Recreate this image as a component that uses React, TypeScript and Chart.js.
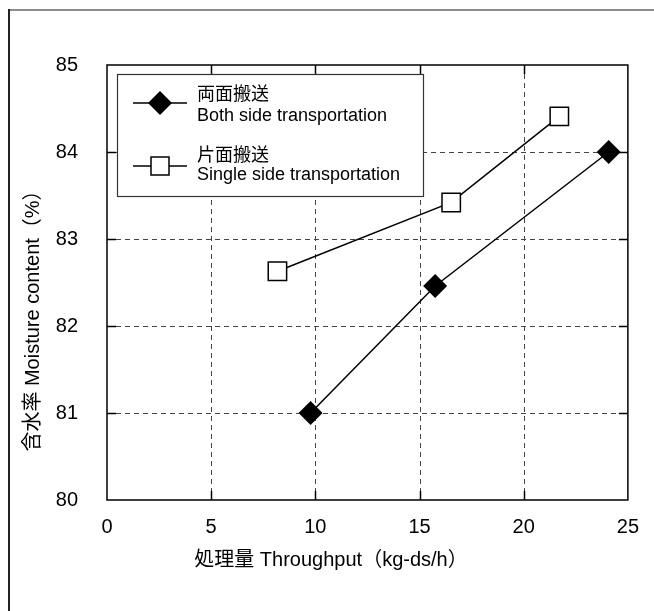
import { useEffect, useRef } from "react";
import { Chart, registerables } from "chart.js";

Chart.register(...registerables);

// Measured series
const bothX = [9.77, 15.75, 24.08];
const bothY = [81.0, 82.46, 84.0];
const singleX = [8.18, 16.52, 21.71];
const singleY = [82.63, 83.42, 84.41];

// Axis ranges / ticks
const xMin = 0;
const xMax = 25;
const xStep = 5;
const yMin = 80;
const yMax = 85;
const yStep = 1;

// Text
const bothLabel = ["両面搬送", "Both side transportation"];
const singleLabel = ["片面搬送", "Single side transportation"];
const xTitle = "処理量 Throughput（kg-ds/h）";
const yTitle = "含水率 Moisture content（%）";

const FONT = '"Liberation Sans", Arial, "Noto Sans CJK JP", sans-serif';

function drawDiamond(ctx: CanvasRenderingContext2D, x: number, y: number, r: number) {
  ctx.beginPath();
  ctx.moveTo(x - r, y);
  ctx.lineTo(x, y - r);
  ctx.lineTo(x + r, y);
  ctx.lineTo(x, y + r);
  ctx.closePath();
  ctx.fillStyle = "#000";
  ctx.fill();
}

function drawSquare(ctx: CanvasRenderingContext2D, x: number, y: number, half: number) {
  ctx.fillStyle = "#fff";
  ctx.fillRect(x - half, y - half, half * 2, half * 2);
  ctx.lineWidth = 1.5;
  ctx.strokeStyle = "#000";
  ctx.strokeRect(x - half, y - half, half * 2, half * 2);
}

const framePlugin = {
  id: "frameAndGrid",
  beforeDraw(chart: any) {
    const { ctx, width, height } = chart;
    ctx.save();
    ctx.fillStyle = "#fff";
    ctx.fillRect(0, 0, width, height);
    // page border
    ctx.fillStyle = "#8c8c8c";
    ctx.fillRect(8, 9, width - 8, 2);
    ctx.fillStyle = "#222";
    ctx.fillRect(8, 9, 2, height - 9);
    ctx.restore();
  },
  beforeDatasetsDraw(chart: any) {
    const { ctx, chartArea: a, scales } = chart;
    const xs = scales.x;
    const ys = scales.y;
    ctx.save();
    // dashed grid
    ctx.strokeStyle = "#444";
    ctx.lineWidth = 1;
    ctx.setLineDash([5, 4]);
    xs.ticks.forEach((t: any) => {
      if (t.value <= xMin || t.value >= xMax) return;
      const px = Math.round(xs.getPixelForValue(t.value)) + 0.5;
      ctx.beginPath();
      ctx.moveTo(px, a.top);
      ctx.lineTo(px, a.bottom);
      ctx.stroke();
    });
    ys.ticks.forEach((t: any) => {
      if (t.value <= yMin || t.value >= yMax) return;
      const py = Math.round(ys.getPixelForValue(t.value)) + 0.5;
      ctx.beginPath();
      ctx.moveTo(a.left, py);
      ctx.lineTo(a.right, py);
      ctx.stroke();
    });
    ctx.setLineDash([]);
    // inward tick marks
    ctx.strokeStyle = "#000";
    ctx.lineWidth = 1.5;
    const tl = 9;
    xs.ticks.forEach((t: any) => {
      if (t.value <= xMin || t.value >= xMax) return;
      const px = Math.round(xs.getPixelForValue(t.value)) + 0.5;
      ctx.beginPath();
      ctx.moveTo(px, a.bottom);
      ctx.lineTo(px, a.bottom - tl);
      ctx.moveTo(px, a.top);
      ctx.lineTo(px, a.top + tl);
      ctx.stroke();
    });
    ys.ticks.forEach((t: any) => {
      if (t.value <= yMin || t.value >= yMax) return;
      const py = Math.round(ys.getPixelForValue(t.value)) + 0.5;
      ctx.beginPath();
      ctx.moveTo(a.left, py);
      ctx.lineTo(a.left + tl, py);
      ctx.moveTo(a.right, py);
      ctx.lineTo(a.right - tl, py);
      ctx.stroke();
    });
    // frame
    ctx.lineWidth = 1.5;
    ctx.strokeRect(a.left, a.top, a.right - a.left, a.bottom - a.top);
    ctx.restore();
  },
  afterDatasetsDraw(chart: any) {
    const { ctx, chartArea: a } = chart;
    const bx = a.left + 10;
    const by = a.top + 9;
    const bw = 306;
    const bh = 122;
    ctx.save();
    ctx.fillStyle = "#fff";
    ctx.fillRect(bx, by, bw, bh);
    ctx.strokeStyle = "#333";
    ctx.lineWidth = 1.2;
    ctx.strokeRect(bx + 0.5, by + 0.5, bw, bh);

    const entries = [
      { labels: bothLabel, marker: "diamond", my: by + 29, t1: by + 21, t2: by + 42 },
      { labels: singleLabel, marker: "square", my: by + 92, t1: by + 82.5, t2: by + 101.5 },
    ];
    entries.forEach((e) => {
      ctx.strokeStyle = "#000";
      ctx.lineWidth = 1.5;
      ctx.beginPath();
      ctx.moveTo(bx + 16, e.my);
      ctx.lineTo(bx + 70, e.my);
      ctx.stroke();
      if (e.marker === "diamond") drawDiamond(ctx, bx + 43, e.my, 12);
      else drawSquare(ctx, bx + 43, e.my, 9);
      ctx.fillStyle = "#000";
      ctx.font = `18px ${FONT}`;
      ctx.textAlign = "left";
      ctx.textBaseline = "middle";
      ctx.fillText(e.labels[0], bx + 80, e.t1);
      ctx.fillText(e.labels[1], bx + 80, e.t2);
    });

    // axis titles
    ctx.font = `20px ${FONT}`;
    ctx.textAlign = "center";
    ctx.textBaseline = "middle";
    ctx.fillText(xTitle, 331, 560);
    ctx.translate(33, 316);
    ctx.rotate(-Math.PI / 2);
    ctx.fillText(yTitle, 0, 0);
    ctx.restore();
  },
};

export default function App() {
  const ref = useRef<HTMLCanvasElement>(null);

  useEffect(() => {
    if (!ref.current) return;
    const chart = new Chart(ref.current, {
      type: "scatter",
      data: {
        datasets: [
          {
            label: bothLabel.join(" "),
            data: bothX.map((x, i) => ({ x, y: bothY[i] })),
            showLine: true,
            borderColor: "#000",
            borderWidth: 1.5,
            backgroundColor: "#000",
            pointStyle: "rectRot",
            pointRadius: 12,
            pointHoverRadius: 12,
            pointBorderWidth: 0,
          },
          {
            label: singleLabel.join(" "),
            data: singleX.map((x, i) => ({ x, y: singleY[i] })),
            showLine: true,
            borderColor: "#000",
            borderWidth: 1.5,
            backgroundColor: "#fff",
            pointBackgroundColor: "#fff",
            pointBorderColor: "#000",
            pointBorderWidth: 1.5,
            pointStyle: "rect",
            pointRadius: 13,
            pointHoverRadius: 13,
          },
        ],
      },
      options: {
        responsive: false,
        animation: false,
        devicePixelRatio: 1,
        layout: { padding: { left: 0, right: 23, top: 65, bottom: 31 } },
        plugins: {
          legend: { display: false },
          tooltip: { enabled: false },
        },
        events: [],
        scales: {
          x: {
            type: "linear",
            min: xMin,
            max: xMax,
            grid: { display: false, drawTicks: false },
            border: { display: false },
            ticks: {
              stepSize: xStep,
              color: "#000",
              padding: 15,
              font: { family: FONT, size: 20 },
              maxRotation: 0,
            },
            afterFit(scale: any) {
              scale.height = 80;
            },
          },
          y: {
            type: "linear",
            min: yMin,
            max: yMax,
            grid: { display: false, drawTicks: false },
            border: { display: false },
            ticks: {
              stepSize: yStep,
              color: "#000",
              padding: 29,
              font: { family: FONT, size: 20 },
            },
            afterFit(scale: any) {
              scale.width = 107;
            },
          },
        },
      },
      plugins: [framePlugin],
    });
    return () => chart.destroy();
  }, []);

  return (
    <div style={{ position: "absolute", left: 0, top: 0, width: 654, height: 611, background: "#fff" }}>
      <canvas ref={ref} width={654} height={611} style={{ display: "block", width: 654, height: 611 }} />
    </div>
  );
}
